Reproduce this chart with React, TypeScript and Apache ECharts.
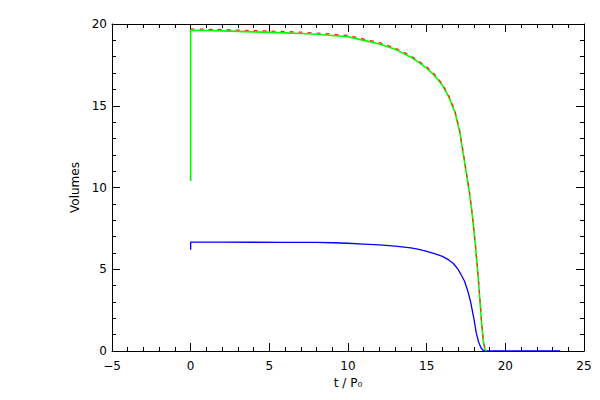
import React, { useEffect, useRef } from "react";
import * as echarts from "echarts";

// Total volume (green) : [t, volume]
const totalT = [0, 0, 1, 2, 3, 4, 5, 6, 7, 8, 9, 10, 11, 12, 13, 14, 14.5, 15, 15.5, 16, 16.4, 16.8, 17.1, 17.3, 17.5, 17.7, 17.9, 18.1, 18.25, 18.4, 18.5, 18.6, 18.7, 18.8];
const totalV = [10.4, 19.62, 19.6, 19.58, 19.55, 19.52, 19.49, 19.46, 19.42, 19.37, 19.3, 19.22, 19.0, 18.78, 18.45, 17.97, 17.65, 17.3, 16.85, 16.25, 15.55, 14.6, 13.4, 12.2, 11.0, 9.8, 8.3, 6.4, 4.8, 2.9, 1.6, 0.6, 0.1, 0];

// Second estimate (red dashed), nearly identical to the total
const redT = [0, 1, 2, 3, 4, 5, 6, 7, 8, 9, 10, 11, 12, 13, 14, 14.5, 15, 15.5, 16, 16.4, 16.8, 17.1, 17.3, 17.5, 17.7, 17.9, 18.1, 18.25, 18.4, 18.5, 18.6, 18.7, 18.8];
const redV = [19.7, 19.68, 19.66, 19.63, 19.6, 19.57, 19.54, 19.5, 19.45, 19.38, 19.3, 19.08, 18.86, 18.53, 18.05, 17.73, 17.38, 16.93, 16.33, 15.63, 14.68, 13.48, 12.28, 11.08, 9.88, 8.38, 6.48, 4.88, 2.98, 1.68, 0.68, 0.15, 0];

// Blue volume
const blueT = [0, 0, 2, 4, 6, 8, 9, 10, 11, 12, 13, 14, 14.5, 15, 15.5, 16, 16.4, 16.7, 17, 17.2, 17.4, 17.6, 17.8, 18, 18.15, 18.3, 18.45, 18.6, 18.8, 23.5];
const blueV = [6.2, 6.66, 6.66, 6.65, 6.64, 6.64, 6.62, 6.59, 6.54, 6.49, 6.42, 6.31, 6.22, 6.1, 5.95, 5.79, 5.57, 5.35, 4.99, 4.65, 4.28, 3.72, 2.98, 1.98, 1.12, 0.55, 0.2, 0.03, 0, 0];

const xTicks = { min: -5, max: 25, interval: 5 };
const yTicks = { min: 0, max: 20, interval: 5 };

const zip = (a: number[], b: number[]) => a.map((v, i) => [v, b[i]]);

const FONT = "DejaVu Sans";

export default function App() {
  const ref = useRef<HTMLDivElement>(null);
  useEffect(() => {
    if (!ref.current) return;
    const chart = echarts.init(ref.current, undefined, { renderer: "svg" });
    const axisLine = { show: true, onZero: false, lineStyle: { color: "#000", width: 1 } };
    const tick = { show: true, inside: true, length: 8, lineStyle: { color: "#000" } };
    const minor = { show: true, splitNumber: 5, length: 4, lineStyle: { color: "#000" } };
    const fmt = (v: number) => String(v).replace("-", "\u2212");
    chart.setOption({
      animation: false,
      backgroundColor: "#fff",
      grid: { left: 112, right: 16, top: 24, bottom: 49 },
      xAxis: [
        {
          type: "value", ...xTicks, position: "bottom",
          axisLine, axisTick: tick, minorTick: minor, splitLine: { show: false },
          axisLabel: { color: "#000", fontFamily: FONT, fontSize: 12, margin: 9, formatter: fmt },
          name: "t / P\u2080", nameLocation: "middle", nameGap: 25,
          nameTextStyle: { color: "#000", fontFamily: FONT, fontSize: 12 },
        },
        {
          type: "value", ...xTicks, position: "top",
          axisLine, axisTick: tick, minorTick: minor, splitLine: { show: false },
          axisLabel: { show: false },
        },
      ],
      yAxis: [
        {
          type: "value", ...yTicks, position: "left",
          axisLine, axisTick: tick, minorTick: minor, splitLine: { show: false },
          axisLabel: { color: "#000", fontFamily: FONT, fontSize: 12, margin: 5, formatter: fmt },
          name: "Volumes", nameLocation: "middle", nameGap: 29,
          nameTextStyle: { color: "#000", fontFamily: FONT, fontSize: 12 },
        },
        {
          type: "value", ...yTicks, position: "right",
          axisLine, axisTick: tick, minorTick: minor, splitLine: { show: false },
          axisLabel: { show: false },
        },
      ],
      series: [
        {
          type: "line", data: zip(blueT, blueV), showSymbol: false, symbol: "none",
          lineStyle: { color: "#0000ff", width: 1.3 },
        },
        {
          type: "line", data: zip(totalT, totalV), showSymbol: false, symbol: "none",
          lineStyle: { color: "#00ff00", width: 1.6 },
        },
        {
          type: "line", data: zip(redT, redV), showSymbol: false, symbol: "none",
          lineStyle: { color: "#ff2a00", width: 1.2, type: [4, 5] },
        },
      ],
    });
    return () => chart.dispose();
  }, []);
  return <div ref={ref} style={{ position: "fixed", left: 0, top: 0, width: 600, height: 400, background: "#fff" }} />;
}
